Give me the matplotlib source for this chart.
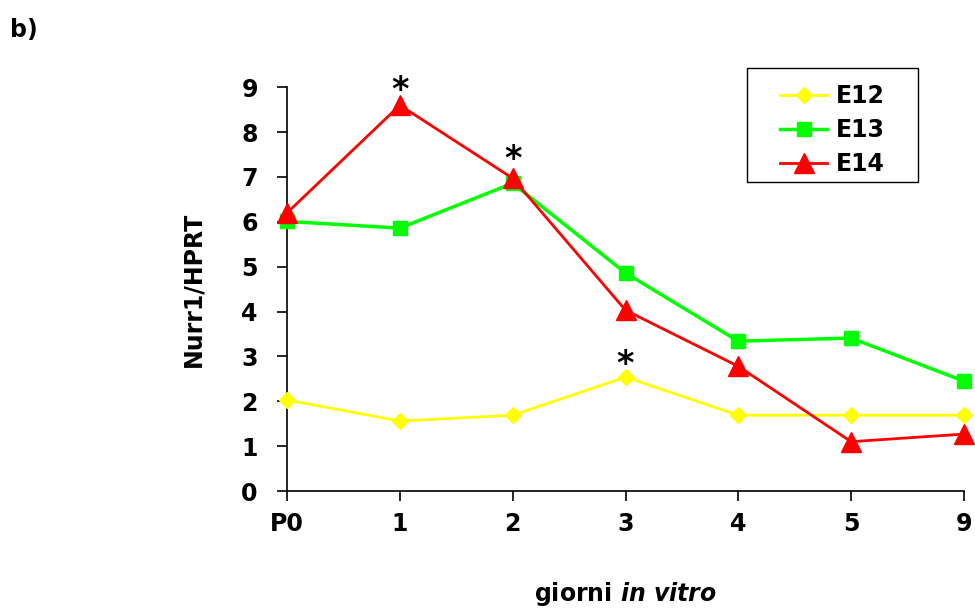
import matplotlib
matplotlib.use("Agg")
import matplotlib.pyplot as plt
from matplotlib.patches import Rectangle

categories = ["P0", "1", "2", "3", "4", "5", "9"]
e12 = [2.03, 1.56, 1.69, 2.54, 1.69, 1.69, 1.69]
e13 = [6.01, 5.86, 6.86, 4.86, 3.34, 3.41, 2.45]
e14 = [6.20, 8.60, 6.97, 4.03, 2.78, 1.10, 1.27]
star_idx = [1, 2, 3]
star_y = [8.93, 7.40, 2.83]

plt.rcParams['font.family'] = ['DejaVu Sans']
plt.rcParams['font.weight'] = 'bold'
plt.rcParams['mathtext.fontset'] = 'custom'
plt.rcParams['mathtext.it'] = 'DejaVu Sans:italic:bold'
plt.rcParams['mathtext.rm'] = 'DejaVu Sans:bold'

W, H = 975, 610
fig = plt.figure(figsize=(9.75, 6.1), dpi=100)
ax = fig.add_axes([0.2944, 0.195, 0.9887 - 0.2944, 0.857 - 0.195])

x = list(range(len(categories)))
ax.plot(x, e12, color="#FFFF00", lw=2, marker="D", ms=8, label="E12", clip_on=False, zorder=3)
ax.plot(x, e13, color="#00FF00", lw=2.5, marker="s", ms=10, label="E13", clip_on=False, zorder=4)
ax.plot(x, e14, color="#FF0000", lw=2, marker="^", ms=14, label="E14", clip_on=False, zorder=5)

for i, yv in zip(star_idx, star_y):
    ax.text(i, yv, "*", ha="center", va="center", fontsize=24, fontweight="heavy")

ax.set_xlim(0, 6)
ax.set_ylim(0, 9)
ax.set_xticks(x)
ax.set_xticklabels(categories)
ax.set_yticks(range(10))
for s in ["top", "right"]:
    ax.spines[s].set_visible(False)
ax.spines["left"].set_linewidth(1.2)
ax.spines["bottom"].set_linewidth(1.2)
ax.tick_params(axis="x", direction="out", length=7, width=1.2, pad=8, labelsize=17)
ax.tick_params(axis="y", direction="out", length=7, width=1.2, pad=14, labelsize=17)
for lbl in ax.get_xticklabels() + ax.get_yticklabels():
    lbl.set_fontweight("bold")

ax.set_ylabel("Nurr1/HPRT", fontsize=17, fontweight="bold", labelpad=26)
ax.set_xlabel("giorni $\\it{in\\ vitro}$", fontsize=17, fontweight="bold", labelpad=32)

leg = ax.legend(loc="upper left", bbox_to_anchor=(780 / W, 1 - 84 / H),
                bbox_transform=fig.transFigure, fontsize=17, frameon=False,
                handlelength=2.0, borderpad=0, labelspacing=0.42,
                handletextpad=0.35, borderaxespad=0)
for t in leg.get_texts():
    t.set_fontweight("bold")

fig.patches.append(Rectangle((747 / W, 1 - 182 / H), (918 - 747) / W, (182 - 68) / H,
                             transform=fig.transFigure, fill=False, edgecolor="black",
                             linewidth=1.0, zorder=10))

fig.text(0.01, 0.95, "b)", fontsize=17, fontweight="bold", ha="left", va="center")

fig.savefig("out.png", dpi=100)
